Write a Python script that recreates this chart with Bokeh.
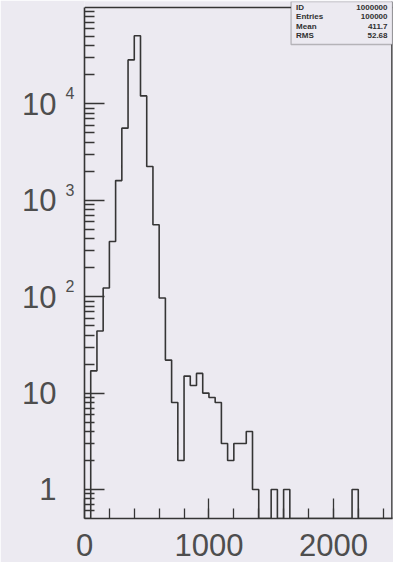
from bokeh.embed import file_html
from bokeh.models import BoxAnnotation, FixedTicker, Label, LogAxis, Range1d, Span
from bokeh.plotting import figure
from bokeh.resources import INLINE

# ---- histogram contents: 50 bins of width 50 covering 0..2500 ----
bin_width = 50
bin_low = list(range(0, 2500, bin_width))
counts = [
    0, 17, 44, 123, 374, 1600, 5600, 28600, 51000, 12100,
    2240, 557, 97, 22, 8, 2, 15, 12, 16, 10,
    9, 8, 3, 2, 3, 3, 4, 1, 0, 0,
    1, 0, 1, 0, 0, 0, 0, 0, 0, 0,
    0, 0, 0, 1, 0, 0, 0, 0, 0, 0,
]

# ---- statistics box ----
stat_names = ["ID", "Entries", "Mean", "RMS"]
stat_values = ["1000000", "100000", "411.7", "52.68"]

# ---- axis ticks and labels ----
x_major = [0, 1000, 2000]
x_minor = list(range(200, 2500, 200))
y_major = [1, 10, 100, 1000, 10000]
y_mantissa = ["1", "10", "10", "10", "10"]
y_exponent = ["", "", "2", "3", "4"]

# ---- layout / style ----
X_END = 2475
Y_FLOOR = 0.5
Y_AXIS_TOP = 1e5          # top of the histogram frame
Y_VIEW_TOP = 1.154e5      # a little head room for the statistics box
STAT_LEFT = 1660
STAT_BOTTOM = 4.13e4
INK = "#353535"
TEXT = "#4e4e4e"
PAPER = "#eceaf1"
FONT = "Liberation Sans"

y_minor = [m * 10.0 ** d for d in range(-1, 5) for m in range(2, 10)
           if Y_FLOOR < m * 10.0 ** d < Y_AXIS_TOP]

# stepped outline of the histogram; empty bins rest on the floor of the log axis
xs, ys = [bin_low[0]], [Y_FLOOR]
for lo, c in zip(bin_low, counts):
    h = c if c > 0 else Y_FLOOR
    xs += [lo, lo + bin_width]
    ys += [h, h]
xs.append(bin_low[-1] + bin_width)
ys.append(Y_FLOOR)

p = figure(
    width=393, height=562,
    x_range=Range1d(0, X_END), y_range=Range1d(Y_FLOOR, Y_VIEW_TOP),
    y_axis_type="log",
    output_backend="svg", toolbar_location=None,
    min_border_left=84, min_border_right=1, min_border_top=1, min_border_bottom=44,
    background_fill_color=PAPER, border_fill_color=PAPER,
)
p.grid.visible = False
p.outline_line_color = None

p.line(xs, ys, line_color=INK, line_width=1.6)

# top and right edges of the frame
p.add_layout(Span(location=Y_AXIS_TOP, dimension="width", line_color=INK, line_width=1.6))
p.add_layout(Span(location=X_END, dimension="height", line_color=INK, line_width=2.6))

xax = p.xaxis[0]
yax = p.yaxis[0]
for ax in (xax, yax):
    ax.axis_line_color = INK
    ax.axis_line_width = 1.6
    ax.major_tick_line_color = INK
    ax.minor_tick_line_color = INK
    ax.major_tick_line_width = 1.3
    ax.minor_tick_line_width = 1.3
    ax.major_tick_in = 20
    ax.major_tick_out = 0
    ax.minor_tick_in = 10
    ax.minor_tick_out = 0
    ax.major_label_text_font = FONT
    ax.major_label_text_color = TEXT

xax.ticker = FixedTicker(ticks=x_major, minor_ticks=x_minor)
xax.major_label_text_font_size = "31px"
xax.major_label_standoff = 15

# inner y axis: frame edge, ticks, and the raised decade exponents
yax.ticker = FixedTicker(ticks=y_major, minor_ticks=y_minor)
yax.bounds = (Y_FLOOR, Y_AXIS_TOP)
yax.major_label_overrides = {t: (e + "\n " if e else "") for t, e in zip(y_major, y_exponent)}
yax.major_label_text_font_size = "16px"
yax.major_label_standoff = 10

# outer y axis: the mantissas of the decade labels
yman = LogAxis(
    ticker=FixedTicker(ticks=y_major, minor_ticks=[]),
    axis_line_color=None, major_tick_line_color=None, minor_tick_line_color=None,
    major_tick_in=0, major_tick_out=0, minor_tick_in=0, minor_tick_out=0,
    major_label_overrides=dict(zip(y_major, y_mantissa)),
    major_label_text_font=FONT, major_label_text_font_size="31px",
    major_label_text_color=TEXT, major_label_standoff=6,
)
p.add_layout(yman, "left")

# statistics box in the upper right corner
p.add_layout(BoxAnnotation(
    left=STAT_LEFT, right=X_END, bottom=STAT_BOTTOM, top=Y_VIEW_TOP,
    fill_color=PAPER, fill_alpha=1.0, line_color=INK, line_width=1.3,
))
row_h = 9.5
for i, (name, val) in enumerate(zip(stat_names, stat_values)):
    off = -row_h * i
    p.add_layout(Label(
        x=STAT_LEFT, y=Y_AXIS_TOP, x_offset=5, y_offset=off, text=name,
        text_font=FONT, text_font_size="8px", text_font_style="bold",
        text_color="#303030", text_align="left", text_baseline="middle",
    ))
    p.add_layout(Label(
        x=X_END, y=Y_AXIS_TOP, x_offset=-5, y_offset=off, text=val,
        text_font=FONT, text_font_size="8px", text_font_style="bold",
        text_color="#303030", text_align="right", text_baseline="middle",
    ))

open("out.html", "w").write(file_html(p, INLINE))
